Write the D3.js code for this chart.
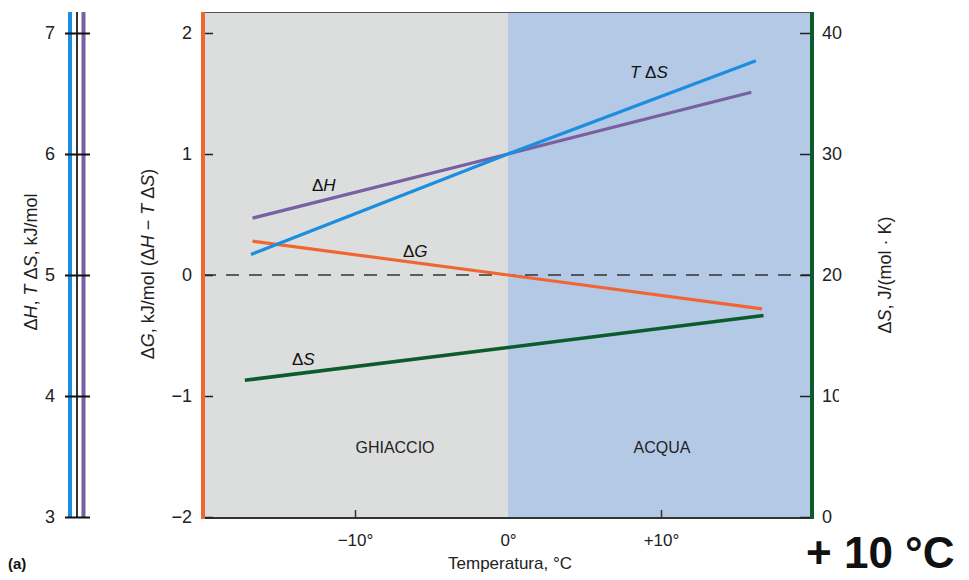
<!DOCTYPE html>
<html>
<head>
<meta charset="utf-8">
<script src="https://cdn.jsdelivr.net/npm/d3@7"></script>
<style>
  html, body { margin: 0; padding: 0; background: #fff; }
  svg { display: block; font-family: "Liberation Sans", Arial, Helvetica, sans-serif; }
</style>
</head>
<body>
<svg id="chart" width="969" height="580"></svg>
<script>
// ---------- DATA ----------
const regions = ["GHIACCIO", "ACQUA"];
const regionTemps = [[-19.9, 0], [0, 19.8]];

const tdsTemp = [-16.8, 0, 16.2];   // T ΔS, kJ/mol (left axis)
const tdsVal  = [5.17, 6.0, 6.77];

const dhTemp = [-16.7, 0, 15.9];    // ΔH, kJ/mol (left axis)
const dhVal  = [5.47, 6.0, 6.51];

const dgTemp = [-16.7, 0, 16.6];    // ΔG, kJ/mol (inner left axis)
const dgVal  = [0.28, 0.0, -0.28];

const dsTemp = [-17.2, 0, 16.7];    // ΔS, J/(mol·K) (right axis)
const dsVal  = [11.3, 14.0, 16.65];

const hTicks = [3, 4, 5, 6, 7];
const gTicks = [-2, -1, 0, 1, 2];
const sTicks = [0, 10, 20, 30, 40];
const xTicks = [-10, 0, 10];
const xTickLabels = ["\u221210\u00b0", "0\u00b0", "+10\u00b0"];

// ---------- SCALES ----------
const svg = d3.select("#chart");
const x = d3.scaleLinear().domain([-10, 10]).range([355, 661]);
const xDomain = [x.invert(203), x.invert(812)];
const yRange = [517, 33];
const yG = d3.scaleLinear().domain([-2, 2]).range(yRange);
const yH = d3.scaleLinear().domain([3, 7]).range(yRange);
const yS = d3.scaleLinear().domain([0, 40]).range(yRange);
const plotTop = 12, plotBottom = 518;
const plotLeft = x(xDomain[0]), plotRight = x(xDomain[1]);
const intFmt = d3.format("d");

const col = {
  blue: "#1b8ee0", purple: "#7860a2", orange: "#ef6633", green: "#0b5b2c",
  gray: "#dcdddd", water: "#b4c9e6", ink: "#222"
};

// ---------- BACKGROUND REGIONS ----------
const regionFill = [col.gray, col.water];
svg.selectAll("rect.region").data(regions).join("rect")
  .attr("class", "region")
  .attr("x", (d, i) => x(Math.max(regionTemps[i][0], xDomain[0])))
  .attr("y", plotTop)
  .attr("width", (d, i) => x(Math.min(regionTemps[i][1], xDomain[1])) - x(Math.max(regionTemps[i][0], xDomain[0])))
  .attr("height", plotBottom - plotTop)
  .attr("fill", (d, i) => regionFill[i]);

// top border
svg.append("line").attr("x1", plotLeft).attr("x2", plotRight).attr("y1", plotTop + 0.5).attr("y2", plotTop + 0.5)
  .attr("stroke", "#555").attr("stroke-width", 1);

// region labels
svg.selectAll("text.region").data(regions).join("text")
  .attr("class", "region")
  .attr("x", (d, i) => i === 0 ? 395 : 662)
  .attr("y", 453)
  .attr("text-anchor", "middle")
  .attr("font-size", 16)
  .attr("fill", "#222")
  .text(d => d);

// dashed zero line
svg.append("line")
  .attr("x1", plotLeft).attr("x2", plotRight)
  .attr("y1", yG(0)).attr("y2", yG(0))
  .attr("stroke", "#333").attr("stroke-width", 1.5)
  .attr("stroke-dasharray", "13,10");

// ---------- LINES ----------
const mk = (ts, vs) => ts.map((t, i) => [t, vs[i]]);
const lineH = d3.line().x(d => x(d[0])).y(d => yH(d[1]));
const lineG = d3.line().x(d => x(d[0])).y(d => yG(d[1]));
const lineS = d3.line().x(d => x(d[0])).y(d => yS(d[1]));

svg.append("path").attr("d", lineS(mk(dsTemp, dsVal))).attr("fill", "none")
  .attr("stroke", col.green).attr("stroke-width", 3.5);
svg.append("path").attr("d", lineG(mk(dgTemp, dgVal))).attr("fill", "none")
  .attr("stroke", col.orange).attr("stroke-width", 3.2);
svg.append("path").attr("d", lineH(mk(dhTemp, dhVal))).attr("fill", "none")
  .attr("stroke", col.purple).attr("stroke-width", 3.2);
svg.append("path").attr("d", lineH(mk(tdsTemp, tdsVal))).attr("fill", "none")
  .attr("stroke", col.blue).attr("stroke-width", 3.2);

// series labels
function seriesLabel(px, py, parts) {
  const t = svg.append("text").attr("x", px).attr("y", py).attr("font-size", 17).attr("fill", "#111");
  parts.forEach(p => {
    const s = t.append("tspan").text(p[0]);
    if (p[1]) s.attr("font-style", "italic");
  });
}
seriesLabel(630, 78, [["T", true], [" \u0394", false], ["S", true]]);
seriesLabel(312, 191, [["\u0394", false], ["H", true]]);
seriesLabel(403, 257, [["\u0394", false], ["G", true]]);
seriesLabel(292, 365, [["\u0394", false], ["S", true]]);

// ---------- AXES ----------
// x axis
const xAxis = svg.append("g").attr("transform", `translate(0,${plotBottom})`)
  .call(d3.axisBottom(x).tickValues(xTicks).tickSizeInner(-8).tickSizeOuter(0).tickPadding(16)
    .tickFormat((d, i) => xTickLabels[i]));
xAxis.select(".domain").attr("d", `M${plotLeft},0H${plotRight}`).attr("stroke", "#333").attr("stroke-width", 2);
xAxis.selectAll(".tick line").attr("stroke", "#333").attr("stroke-width", 1.5)
  .attr("opacity", d => d === 0 ? 0 : 1);
xAxis.selectAll(".tick text").attr("font-size", 17).attr("fill", "#222")
  .attr("font-family", "Liberation Sans, Arial, sans-serif");
svg.append("text").attr("x", 510).attr("y", 569).attr("text-anchor", "middle")
  .attr("font-size", 17).attr("fill", "#222").text("Temperatura, \u00b0C");

// ΔG axis (orange)
const gAxis = svg.append("g").attr("transform", `translate(${plotLeft},0)`)
  .call(d3.axisLeft(yG).tickValues(gTicks).tickFormat(intFmt).tickSizeInner(-10).tickSizeOuter(0).tickPadding(11));
gAxis.select(".domain").remove();
gAxis.selectAll(".tick line").attr("stroke", "#222").attr("stroke-width", 1.5);
gAxis.selectAll(".tick text").attr("font-size", 18).attr("fill", "#222")
  .attr("font-family", "Liberation Sans, Arial, sans-serif");
svg.append("line").attr("x1", plotLeft).attr("x2", plotLeft).attr("y1", plotTop).attr("y2", plotBottom + 1)
  .attr("stroke", col.orange).attr("stroke-width", 4);

// ΔS axis (green)
const sAxis = svg.append("g").attr("transform", `translate(${plotRight},0)`)
  .call(d3.axisRight(yS).tickValues(sTicks).tickFormat(intFmt).tickSizeInner(-12).tickSizeOuter(0).tickPadding(10));
sAxis.select(".domain").remove();
sAxis.selectAll(".tick line").attr("stroke", "#222").attr("stroke-width", 1.5);
sAxis.selectAll(".tick text").attr("font-size", 18).attr("fill", "#222")
  .attr("font-family", "Liberation Sans, Arial, sans-serif");
// the "10" label is cut off in the reference
svg.append("clipPath").attr("id", "cut10").append("rect")
  .attr("x", plotRight).attr("y", yS(10) - 15).attr("width", 27).attr("height", 30);
sAxis.selectAll(".tick").filter(d => d === 10).each(function () {
  const g = d3.select(this);
  const tr = g.attr("transform");
  g.select("text").remove();
  svg.append("g").attr("clip-path", "url(#cut10)")
    .append("g").attr("transform", `translate(${plotRight},0) ` + tr)
    .append("text").attr("x", 10).attr("dy", "0.32em").attr("font-size", 18).attr("fill", "#222")
    .text("10");
});
svg.append("line").attr("x1", plotRight).attr("x2", plotRight).attr("y1", plotTop).attr("y2", plotBottom + 1)
  .attr("stroke", col.green).attr("stroke-width", 4);

// ΔH / TΔS axis (left, triple line)
const hAxisX = 90;
[[70, col.blue, 4], [77, "#333", 2], [83.5, col.purple, 4]].forEach(([lx, c, w]) => {
  svg.append("line").attr("x1", lx).attr("x2", lx).attr("y1", plotTop).attr("y2", plotBottom)
    .attr("stroke", c).attr("stroke-width", w);
});
const hAxis = svg.append("g").attr("transform", `translate(${hAxisX},0)`)
  .call(d3.axisLeft(yH).tickValues(hTicks).tickFormat(intFmt).tickSizeInner(25).tickSizeOuter(0).tickPadding(10));
hAxis.select(".domain").remove();
hAxis.selectAll(".tick line").attr("stroke", "#111").attr("stroke-width", 2);
hAxis.selectAll(".tick text").attr("font-size", 18).attr("fill", "#222")
  .attr("font-family", "Liberation Sans, Arial, sans-serif");

// axis titles
function vTitle(cx, cy, parts) {
  const t = svg.append("text")
    .attr("transform", `translate(${cx},${cy}) rotate(-90)`)
    .attr("text-anchor", "middle")
    .attr("font-size", 18).attr("fill", "#222");
  parts.forEach(p => {
    const s = t.append("tspan").text(p[0]);
    if (p[1]) s.attr("font-style", "italic");
  });
}
vTitle(37, 262, [["\u0394", false], ["H", true], [", ", false], ["T", true], [" \u0394", false], ["S", true], [", kJ/mol", false]]);
vTitle(154, 264, [["\u0394", false], ["G", true], [", kJ/mol (\u0394", false], ["H", true], [" \u2212 ", false], ["T", true], [" \u0394", false], ["S", true], [")", false]]);
vTitle(891, 275, [["\u0394", false], ["S", true], [", J/(mol \u00b7 K)", false]]);

// panel letter and annotation
svg.append("text").attr("x", 8).attr("y", 569).attr("font-size", 15).attr("font-weight", "bold")
  .attr("fill", "#111").text("(a)");
svg.append("text").attr("x", 806).attr("y", 568).attr("font-size", 44).attr("font-weight", "bold")
  .attr("fill", "#111").text("+ 10 \u00b0C");
</script>
</body>
</html>
